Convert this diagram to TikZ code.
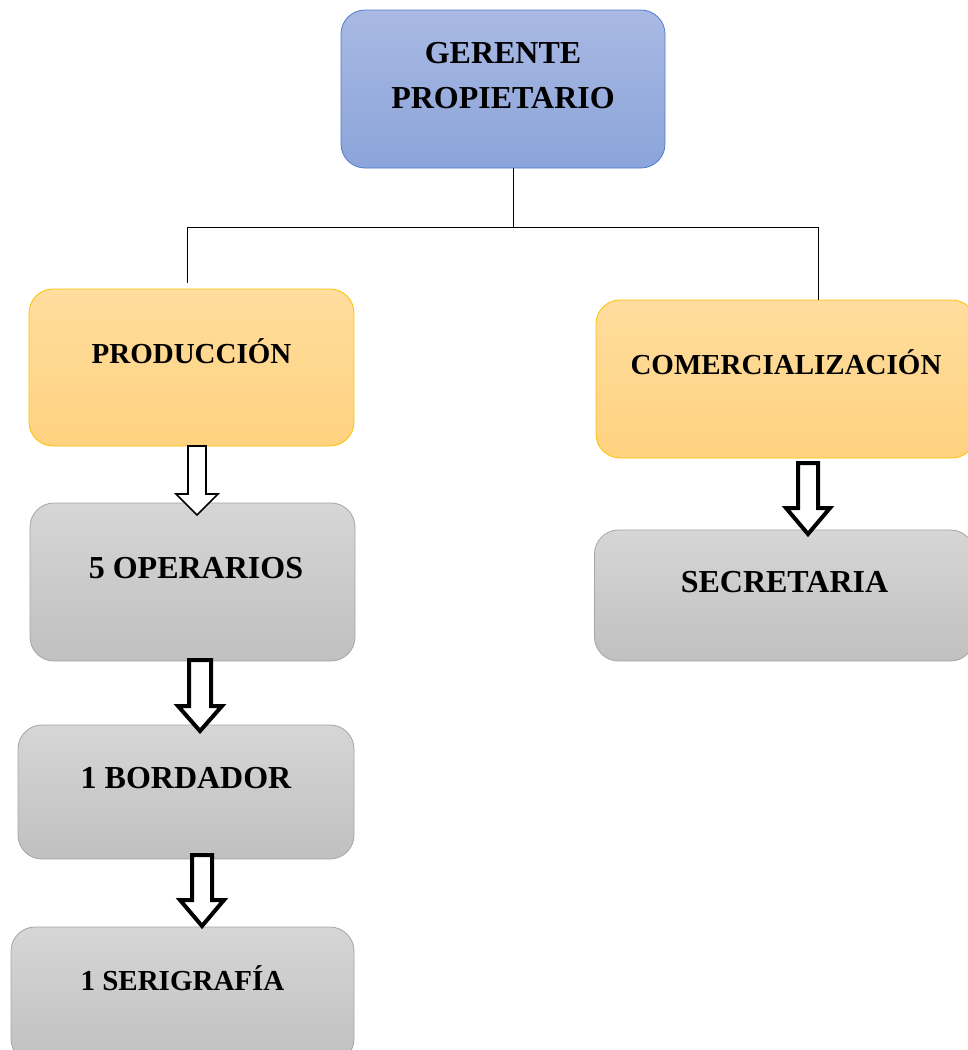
\documentclass[tikz,border=0pt]{standalone}
\usepackage{fontspec}
\setmainfont{Liberation Serif}
\usetikzlibrary{positioning,calc}

\definecolor{blueTop}{RGB}{169,185,227}
\definecolor{blueBot}{RGB}{139,164,218}
\definecolor{blueLine}{RGB}{79,125,205}
\definecolor{orgTop}{RGB}{255,221,158}
\definecolor{orgBot}{RGB}{255,210,127}
\definecolor{orgLine}{RGB}{255,192,0}
\definecolor{grayTop}{RGB}{214,214,214}
\definecolor{grayBot}{RGB}{192,192,192}
\definecolor{grayLine}{RGB}{165,165,165}

\tikzset{
  box/.style={draw, rounded corners=24pt, line width=0.8pt,
    font=\bfseries\fontsize{32}{45}\selectfont, align=center,
    text depth=28pt},
  single/.style={text height=21.2pt},
  smalltxt/.style={font=\bfseries\fontsize{29}{45}\selectfont, text height=19.2pt},
  bluebox/.style={box, top color=blueTop, bottom color=blueBot, draw=blueLine},
  orgbox/.style={box, single, top color=orgTop, bottom color=orgBot, draw=orgLine},
  graybox/.style={box, single, top color=grayTop, bottom color=grayBot, draw=grayLine},
  link/.style={line width=0.9pt},
}

% #1 style, #2 top, #3 tip, #4 half shaft, #5 half head, #6 head length
\newcommand{\hollowarrow}[6]{%
  \draw[fill=white, line join=miter, #1] let \p1=(#2), \p2=(#3) in
    (\x1-#4,\y1) -- (\x1+#4,\y1) -- (\x1+#4,\y2+#6) -- (\x1+#5,\y2+#6)
    -- (\x1,\y2) -- (\x1-#5,\y2+#6) -- (\x1-#4,\y2+#6) -- cycle;}

\begin{document}
\begin{tikzpicture}[x=1pt, y=-1pt]
\useasboundingbox (0,0) rectangle (968,1050);
\clip (0,0) rectangle (968,1050);

\node[bluebox, minimum width=324pt, minimum height=158pt] (ger) at (503,89) {GERENTE\\PROPIETARIO};
\node[orgbox, smalltxt, minimum width=325pt, minimum height=157pt] (prod) at (191.5,367.5) {PRODUCCIÓN};
\node[orgbox, smalltxt, minimum width=380pt, minimum height=158pt] (com) at (786,379) {COMERCIALIZACIÓN};
\node[graybox, minimum width=325pt, minimum height=158pt] (ope) at (192.5,582) {\hspace*{7pt}5 OPERARIOS};
\node[graybox, minimum width=336pt, minimum height=134pt] (bor) at (186,792) {1 BORDADOR};
\node[graybox, smalltxt, minimum width=343pt, minimum height=136pt] (ser) at (182.5,995) {1 SERIGRAFÍA};
\node[graybox, minimum width=380pt, minimum height=131pt] (sec) at (784.5,595.5) {SECRETARIA};

% tree lines
\coordinate (jn) at (513,227);
\coordinate (jl) at (187,227);
\coordinate (jr) at (818,227);
\coordinate (pl) at (187,283);
\draw[link] (ger.south -| jn) -- (jn);
\draw[link] (jl) -- (jr);
\draw[link] (jl) -- (pl);
\draw[link] (jr) -- (com.north -| jr);

% block arrows
\coordinate (a1) at (197,446);   \coordinate (t1) at (197,515);
\coordinate (a2) at (200,660);   \coordinate (t2) at (200,731);
\coordinate (a3) at (808,463);   \coordinate (t3) at (808,534);
\coordinate (a4) at (202,855);   \coordinate (t4) at (202,926);
\hollowarrow{line width=1.6pt}{a1}{t1}{9pt}{21pt}{21pt}
\hollowarrow{line width=4pt}{a2}{t2}{11pt}{22pt}{25pt}
\hollowarrow{line width=4pt}{a3}{t3}{10pt}{22pt}{26pt}
\hollowarrow{line width=4pt}{a4}{t4}{10pt}{22pt}{26pt}
\end{tikzpicture}
\end{document}
